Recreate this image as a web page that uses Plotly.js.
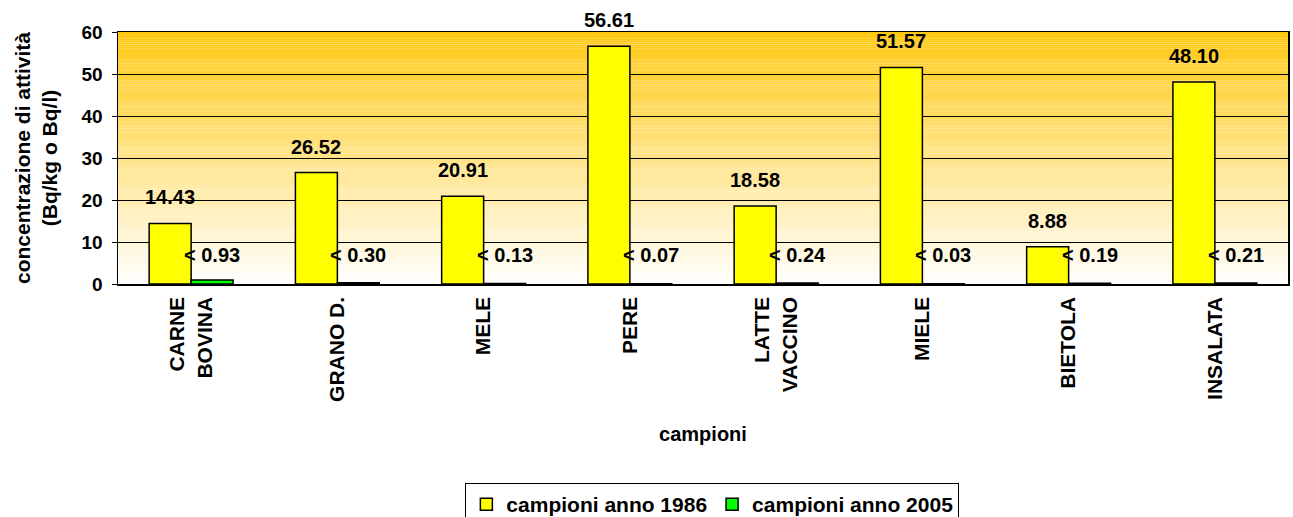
<!DOCTYPE html>
<html>
<head>
<meta charset="utf-8">
<script src="https://cdn.plot.ly/plotly-3.0.1.min.js"></script>
<style>html,body{margin:0;padding:0;background:#fff;}#chart{width:1293px;height:517px;}</style>
</head>
<body>
<div id="chart"></div>
<script>
var categories = ['CARNE<br>BOVINA', 'GRANO D.', 'MELE', 'PERE', 'LATTE<br>VACCINO', 'MIELE', 'BIETOLA', 'INSALATA'];
var values1986 = [14.43, 26.52, 20.91, 56.61, 18.58, 51.57, 8.88, 48.10];
var values2005 = [0.93, 0.30, 0.13, 0.07, 0.24, 0.03, 0.19, 0.21];
var seriesNames = ['campioni anno 1986', 'campioni anno 2005'];
var yTicks = [0, 10, 20, 30, 40, 50, 60];

var FONT = 'Liberation Sans, Arial, Helvetica, sans-serif';

var traces = [
  {type: 'bar', name: seriesNames[0], x: categories, y: values1986,
   marker: {color: '#FFFF00', line: {color: '#000000', width: 1.5}}, hoverinfo: 'x+y'},
  {type: 'bar', name: seriesNames[1], x: categories, y: values2005,
   marker: {color: '#00FF00', line: {color: '#000000', width: 1.5}}, hoverinfo: 'x+y'}
];

// gradient background (gold at top to white at bottom)
var shapes = [];
var gradTop = [255, 200, 18], gradBot = [255, 255, 255];
var steps = 120;
for (var i = 0; i < steps; i++) {
  var t = (i + 0.5) / steps; // 0 bottom -> 1 top
  var c = gradBot.map(function (b, k) { return Math.round(b + (gradTop[k] - b) * t); });
  shapes.push({type: 'rect', xref: 'paper', yref: 'y', x0: 0, x1: 1,
    y0: 60 * i / steps, y1: 60 * (i + 1) / steps + 0.02,
    fillcolor: 'rgb(' + c.join(',') + ')', line: {width: 0}, layer: 'below'});
}

var annotations = [];
categories.forEach(function (cat, i) {
  annotations.push({x: cat, y: values1986[i], xref: 'x', yref: 'y',
    text: values1986[i].toFixed(2), showarrow: false, xshift: -21, yshift: 26,
    yanchor: 'middle', font: {family: FONT, size: 20, color: '#000', weight: 'bold'}});
  annotations.push({x: cat, y: 6.9, xref: 'x', yref: 'y',
    text: '&lt; ' + values2005[i].toFixed(2), showarrow: false, xshift: 21,
    yanchor: 'middle', font: {family: FONT, size: 20, color: '#000', weight: 'bold'}});
});

var layout = {
  width: 1293, height: 517,
  margin: {l: 118, r: 5, t: 32, b: 233, autoexpand: false},
  paper_bgcolor: '#ffffff', plot_bgcolor: 'rgba(0,0,0,0)',
  font: {family: FONT, color: '#000', size: 18, weight: 'bold'},
  barmode: 'group', bargap: 0.426, bargroupgap: 0,
  showlegend: true,
  legend: {orientation: 'h', x: 0.508, xanchor: 'center', y: -0.79, yanchor: 'top',
    bordercolor: '#000', borderwidth: 1, bgcolor: '#fff', itemwidth: 30,
    font: {family: FONT, size: 21, color: '#000', weight: 'bold'}},
  xaxis: {type: 'category', tickangle: -90, showline: true, linecolor: '#000', linewidth: 1.5,
    mirror: true, ticks: '', showgrid: false, zeroline: false, ticklabelstandoff: 3,
    tickfont: {family: FONT, size: 21, color: '#000', weight: 'bold'},
    title: {text: 'campioni', font: {family: FONT, size: 20, color: '#000', weight: 'bold'}, standoff: 26}},
  yaxis: {range: [0, 60], tickvals: yTicks, showline: true, linecolor: '#000', linewidth: 1.5,
    mirror: true, ticks: 'outside', ticklen: 5, tickcolor: '#000', showgrid: true, gridcolor: '#000',
    gridwidth: 1, zeroline: false, ticklabelstandoff: 5,
    tickfont: {family: FONT, size: 19, color: '#000', weight: 'bold'},
    title: {text: 'concentrazione di attività<br>(Bq/kg o Bq/l)', font: {family: FONT, size: 21, color: '#000', weight: 'bold'}, standoff: 18}},
  shapes: shapes,
  annotations: annotations
};

Plotly.newPlot('chart', traces, layout, {displayModeBar: false, staticPlot: true});
</script>
</body>
</html>
